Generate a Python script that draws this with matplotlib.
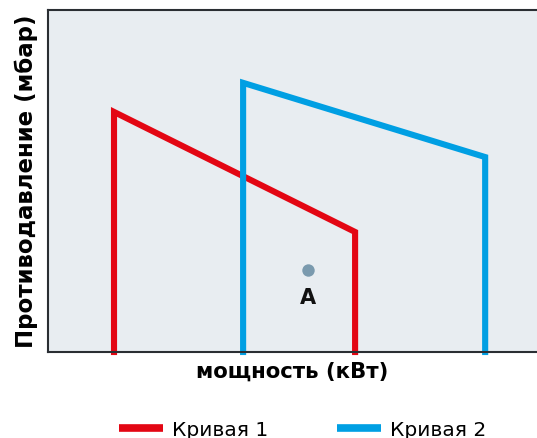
import matplotlib
matplotlib.use("Agg")
import matplotlib.pyplot as plt
from matplotlib.lines import Line2D

# Data (arbitrary units)
curve1_x = [1.35, 1.35, 6.28, 6.28]
curve1_y = [0.0, 7.02, 3.51, 0.0]
curve2_x = [3.99, 3.99, 8.94, 8.94]
curve2_y = [0.0, 7.87, 5.70, 0.0]
point_x = [5.32]
point_y = [2.40]
point_label = "A"
series_names = ["Кривая 1", "Кривая 2"]
x_label = "мощность (кВт)"
y_label = "Противодавление (мбар)"

red = "#e30613"
blue = "#009fe3"

plt.rcParams['font.family'] = ['DejaVu Sans']
fig = plt.figure(figsize=(5.37, 4.38), dpi=100)
ax = fig.add_axes([48/537, 1-352/438, 1-48/537, 342/438])
ax.set_facecolor("#e8edf1")
ax.plot(curve1_x, curve1_y, color=red, lw=4.4, solid_joinstyle='miter', clip_on=False)
ax.plot(curve2_x, curve2_y, color=blue, lw=4.4, solid_joinstyle='miter', clip_on=False)
ax.scatter(point_x, point_y, s=80, color="#7a9aae", zorder=3, linewidths=0)
ax.text(point_x[0], point_y[0]-0.52, point_label, ha='center', va='top', fontsize=15, fontweight='bold', color='#111111')
ax.set_xlim(0, 10)
ax.set_ylim(0, 10)
ax.set_xticks([])
ax.set_yticks([])
for s in ['left', 'bottom', 'top']:
    ax.spines[s].set_color('#2a2e33')
    ax.spines[s].set_linewidth(1.5)
ax.spines['right'].set_visible(False)
ax.set_xlabel(x_label, fontsize=15.3, fontweight='bold', labelpad=7)
ax.set_ylabel(y_label, fontsize=16.5, fontweight='bold', labelpad=7)

handles = [Line2D([0], [0], color=red, lw=5.5, solid_capstyle='butt'),
           Line2D([0], [0], color=blue, lw=5.5, solid_capstyle='butt')]
fig.legend(handles, series_names, loc='center left', bbox_to_anchor=(119/537, 1-430/438), ncol=2,
           frameon=False, fontsize=14.5, handlelength=2.2, columnspacing=3.4, handletextpad=0.45,
           borderpad=0, borderaxespad=0)
fig.savefig("out.png", dpi=100)
